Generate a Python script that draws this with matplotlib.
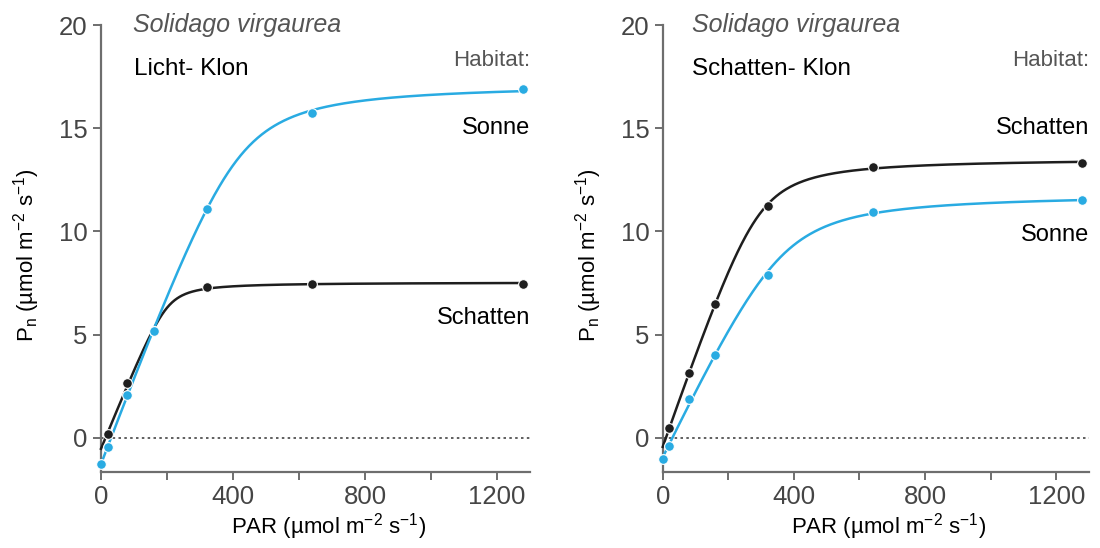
import numpy as np
import matplotlib
matplotlib.use("Agg")
import matplotlib.pyplot as plt

plt.rcParams["font.family"] = ["Liberation Sans", "DejaVu Sans"]
plt.rcParams["mathtext.fontset"] = "custom"
plt.rcParams["mathtext.rm"] = "Liberation Sans"
plt.rcParams["mathtext.it"] = "Liberation Sans:italic"

# PAR-Stufen (µmol m-2 s-1)
par = [0, 20, 80, 160, 320, 640, 1280]

# Licht-Klon
licht_sonne = [-1.25, -0.45, 2.1, 5.2, 11.1, 15.75, 16.9]
licht_schatten_x = [20, 80, 160, 320, 640, 1280]
licht_schatten = [0.2, 2.65, 5.2, 7.3, 7.45, 7.45]

# Schatten-Klon
schatten_sonne = [-1.0, -0.4, 1.9, 4.0, 7.9, 10.95, 11.5]
schatten_schatten_x = [20, 80, 160, 320, 640, 1280]
schatten_schatten = [0.5, 3.15, 6.5, 11.25, 13.1, 13.3]

BLUE = "#29abe2"
BLACK = "#1e1e1e"
GRAY = "#6e6e6e"


def hyperbel(I, a, pm, th):
    s = a * I + pm
    return (s - np.sqrt(np.maximum(s**2 - 4 * th * a * I * pm, 0))) / (2 * th)


def fit_kurve(x, y):
    # nicht-rechtwinklige Hyperbel, grobe Gittersuche
    x = np.asarray(x, float)
    y = np.asarray(y, float)
    A = np.linspace(0.01, 0.12, 70)[:, None, None, None]
    PM = np.linspace(y.max() * 0.9, y.max() * 1.6, 70)[None, :, None, None]
    TH = np.linspace(0.05, 0.995, 50)[None, None, :, None]
    g = hyperbel(x[None, None, None, :], A, PM, TH)
    rd = (g - y).mean(axis=-1, keepdims=True)
    sse = ((g - rd - y) ** 2).sum(axis=-1)
    i, j, k = np.unravel_index(np.argmin(sse), sse.shape)
    a, pm, th = A[i, 0, 0, 0], PM[0, j, 0, 0], TH[0, 0, k, 0]
    return lambda I: hyperbel(I, a, pm, th) - rd[i, j, k, 0]


def kurve(ax, x, y, farbe):
    f = fit_kurve(x, y)
    xs = np.linspace(0, x[-1], 500)
    ax.plot(xs, f(xs), color=farbe, lw=1.8, zorder=3)
    ax.plot(x, y, "o", color=farbe, ms=7, mec="white", mew=0.8, zorder=4)


fig = plt.figure(figsize=(11, 5.48), dpi=100)
ax1 = fig.add_axes([0.0873, 0.1387, 0.3945, 0.8345])
ax2 = fig.add_axes([0.598, 0.1387, 0.392, 0.8345])

for ax in (ax1, ax2):
    ax.set_xlim(-15, 1300)
    ax.set_ylim(-1.65, 20.5)
    for s in ("top", "right"):
        ax.spines[s].set_visible(False)
    ax.spines["left"].set_position(("data", 0))
    ax.spines["left"].set_bounds(-1.65, 20)
    ax.spines["bottom"].set_bounds(0, 1300)
    for s in ("left", "bottom"):
        ax.spines[s].set_color(GRAY)
        ax.spines[s].set_linewidth(1.6)
    ax.set_xticks([0, 400, 800, 1200])
    ax.set_xticks([200, 600, 1000], minor=True)
    ax.set_yticks([0, 5, 10, 15, 20])
    ax.tick_params(axis="both", which="both", colors=GRAY, width=1.4, length=6,
                   labelsize=18.5, labelcolor="#454545")
    ax.axhline(0, xmin=15 / 1315, color="#444444", lw=1.2, ls=(0, (1.5, 2)), zorder=1)
    ax.set_xlabel("PAR (µmol m$^{-2}$ s$^{-1}$)", fontsize=16)
    ax.xaxis.set_label_coords(0.535, -0.085)
    ax.set_ylabel("P$_{\\mathrm{n}}$ (µmol m$^{-2}$ s$^{-1}$)", fontsize=16)
    ax.yaxis.set_label_coords(-0.125, 0.475)
    ax.text(1300, 18.0, "Habitat:", fontsize=16, color="#555555", ha="right")

ax1.text(97, 19.65, "Solidago virgaurea", style="italic", fontsize=18, color="#555555")
ax2.text(88, 19.65, "Solidago virgaurea", style="italic", fontsize=18, color="#555555")
ax1.text(100, 17.6, "Licht- Klon", fontsize=17.5)
ax2.text(90, 17.6, "Schatten- Klon", fontsize=17.5)

kurve(ax1, licht_schatten_x, licht_schatten, BLACK)
kurve(ax1, par, licht_sonne, BLUE)
ax1.text(1300, 14.7, "Sonne", fontsize=17, ha="right")
ax1.text(1300, 5.5, "Schatten", fontsize=17, ha="right")

kurve(ax2, schatten_schatten_x, schatten_schatten, BLACK)
kurve(ax2, par, schatten_sonne, BLUE)
ax2.text(1300, 14.7, "Schatten", fontsize=17, ha="right")
ax2.text(1300, 9.55, "Sonne", fontsize=17, ha="right")

fig.savefig("out.png", dpi=100)
